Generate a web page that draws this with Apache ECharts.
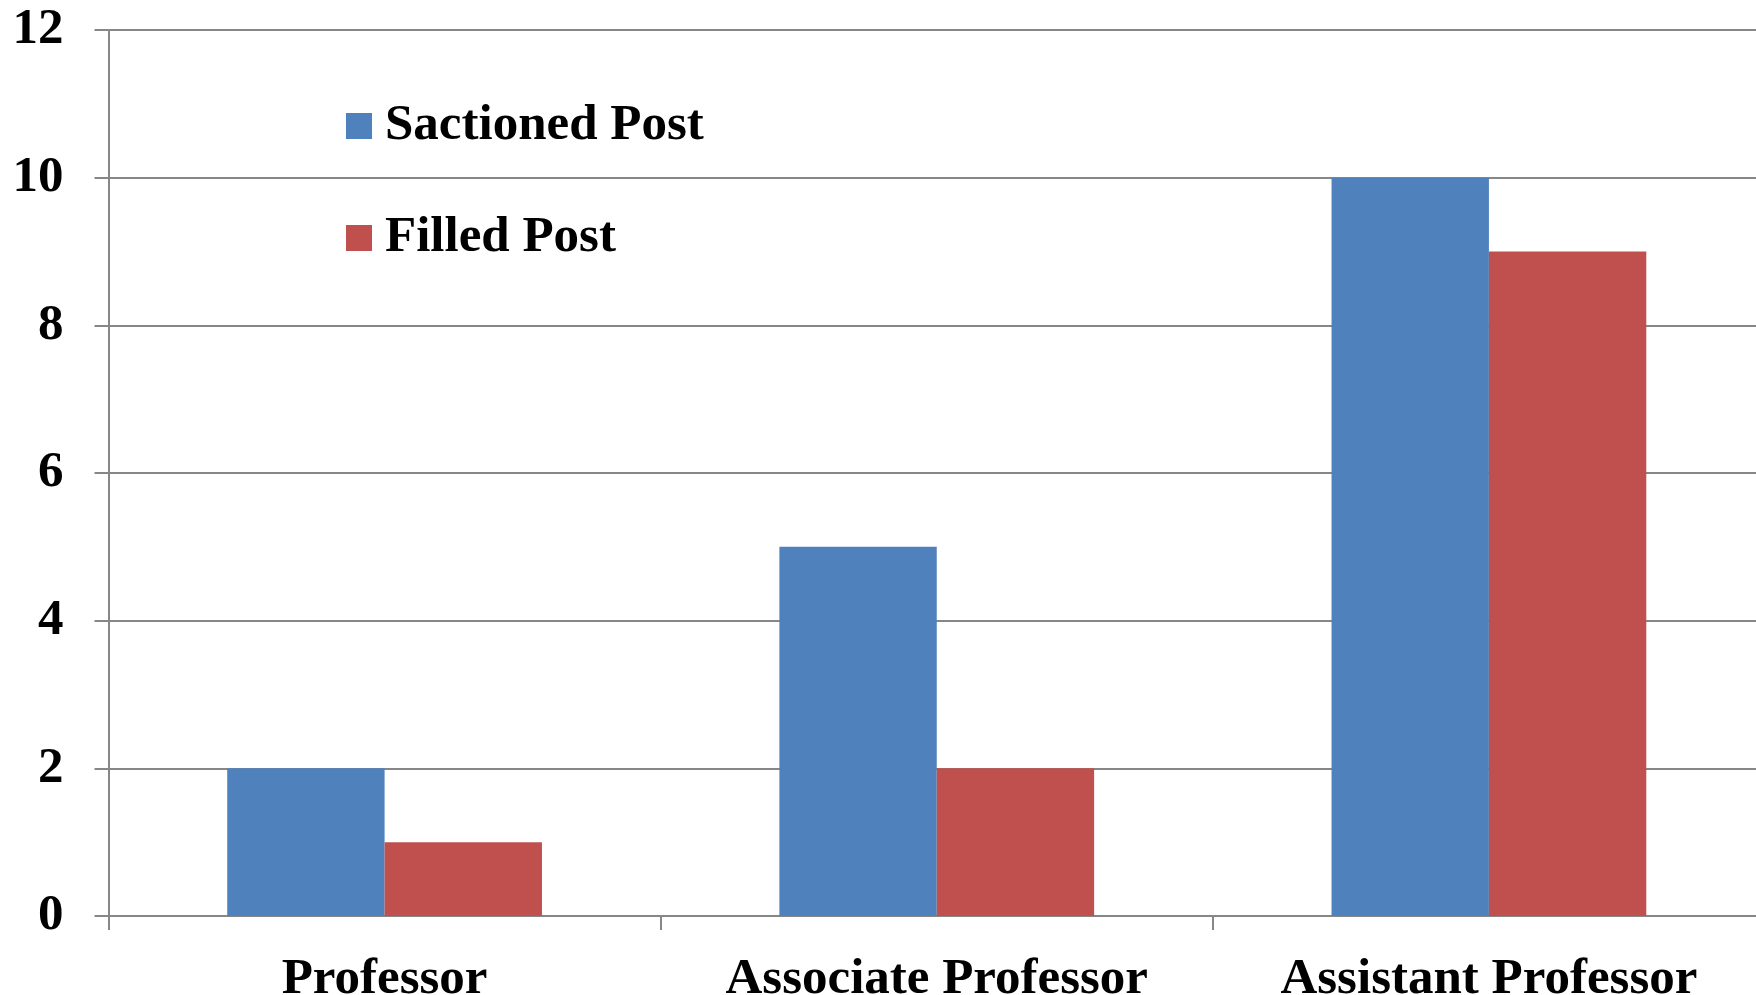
<!DOCTYPE html>
<html>
<head>
<meta charset="utf-8">
<script src="https://cdn.jsdelivr.net/npm/echarts@6/dist/echarts.min.js"></script>
<style>
  html, body { margin: 0; padding: 0; background: #fff; }
  #chart { width: 1756px; height: 995px; }
</style>
</head>
<body>
<div id="chart"></div>
<script>
// chart data
var categories = ['Professor', 'Associate Professor', 'Assistant Professor']
var sanctionedPost = [2, 5, 10]
var filledPost = [1, 2, 9]
var yTicks = { min: 0, max: 12, interval: 2 }

var FONT = 'Liberation Serif'
var GRID_COLOR = '#878787'

var chart = echarts.init(document.getElementById('chart'))

chart.setOption({
  animation: false,
  backgroundColor: '#fff',
  textStyle: { fontFamily: FONT },
  legend: {
    orient: 'vertical',
    left: 346,
    top: 98,
    padding: 0,
    icon: 'rect',
    itemWidth: 26,
    itemHeight: 26,
    itemGap: 56,
    textStyle: {
      fontFamily: FONT,
      fontWeight: 'bold',
      fontSize: 51,
      lineHeight: 56,
      color: '#000',
      padding: [0, 0, 0, 8]
    },
    data: ['Sactioned Post', 'Filled Post']
  },
  grid: {
    left: 108.5,
    top: 30,
    right: -9,
    bottom: 79,
    containLabel: false,
    outerBoundsMode: 'none'
  },
  xAxis: {
    type: 'category',
    data: categories,
    axisLine: { lineStyle: { color: GRID_COLOR, width: 2 } },
    axisTick: { show: true, length: 14, lineStyle: { color: GRID_COLOR, width: 2 } },
    axisLabel: {
      margin: 38,
      fontFamily: FONT,
      fontWeight: 'bold',
      fontSize: 51,
      color: '#000',
      interval: 0
    }
  },
  yAxis: {
    type: 'value',
    min: yTicks.min,
    max: yTicks.max,
    interval: yTicks.interval,
    axisLine: { show: true, lineStyle: { color: GRID_COLOR, width: 2 } },
    axisTick: { show: true, length: 14, lineStyle: { color: GRID_COLOR, width: 2 } },
    splitLine: { show: true, lineStyle: { color: GRID_COLOR, width: 2 } },
    axisLabel: {
      margin: 45,
      fontFamily: FONT,
      fontWeight: 'bold',
      fontSize: 51,
      color: '#000'
    }
  },
  series: [
    {
      name: 'Sactioned Post',
      type: 'bar',
      data: sanctionedPost,
      barGap: '0%',
      barCategoryGap: '43%',
      itemStyle: { color: '#4F81BD' }
    },
    {
      name: 'Filled Post',
      type: 'bar',
      data: filledPost,
      itemStyle: { color: '#C0504D' }
    }
  ]
})
</script>
</body>
</html>
